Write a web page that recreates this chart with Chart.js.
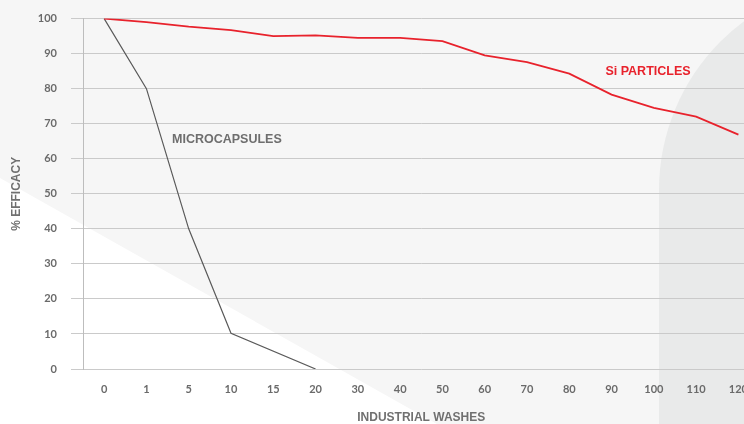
<!DOCTYPE html>
<html>
<head>
<meta charset="utf-8">
<script src="https://cdn.jsdelivr.net/npm/chart.js@4"></script>
<style>
  html,body{margin:0;padding:0;}
  body{width:744px;height:424px;overflow:hidden;position:relative;background:#f6f6f6;}
  .tri{position:absolute;left:0;top:0;width:744px;height:424px;background:#ffffff;
       clip-path:polygon(0 178px, 437px 424px, 0 424px);}
  .blob{position:absolute;left:659px;top:-20px;width:600px;height:700px;background:#e9eaea;border-radius:210px;}
  #wrap{position:absolute;left:0;top:-2.5px;width:762px;height:426.5px;}
  canvas{display:block;}
</style>
</head>
<body>
<div class="tri"></div>
<div class="blob"></div>
<div id="wrap"><canvas id="c" width="762" height="427"></canvas></div>
<script>
// ---- data ----
const washes = ['0','1','5','10','15','20','30','40','50','60','70','80','90','100','110','120'];
const siParticles = [100, 99.0, 97.7, 96.7, 95.0, 95.2, 94.5, 94.5, 93.6, 89.5, 87.6, 84.3, 78.3, 74.5, 72.0, 66.9];
const microcapsules = [100, 80, 40, 10.2, null, 0, null, null, null, null, null, null, null, null, null, null];
const yTicks = [0, 10, 20, 30, 40, 50, 60, 70, 80, 90, 100];

const labelFont = "'Liberation Sans', Arial, sans-serif";
const tickFont = "Lato, 'Open Sans', sans-serif";

const annotations = {
  id: 'annotations',
  afterDatasetsDraw(chart) {
    const ctx = chart.ctx;
    ctx.save();
    ctx.font = "bold 12.5px " + labelFont;
    ctx.textBaseline = 'middle';
    ctx.fillStyle = '#6e6e6e';
    ctx.textAlign = 'left';
    ctx.fillText('MICROCAPSULES', 172, 141.5);
    ctx.fillStyle = '#e8222c';
    ctx.textAlign = 'center';
    ctx.fillText('Si PARTICLES', 648, 73.5);
    ctx.restore();
  }
};

new Chart(document.getElementById('c'), {
  type: 'line',
  data: {
    labels: washes,
    datasets: [
      {
        label: 'Si PARTICLES',
        data: siParticles,
        borderColor: '#e8222c',
        borderWidth: 1.8,
        pointRadius: 0,
        tension: 0,
        fill: false
      },
      {
        label: 'MICROCAPSULES',
        data: microcapsules,
        borderColor: '#5a5a5a',
        borderWidth: 1.2,
        pointRadius: 0,
        tension: 0,
        spanGaps: true,
        fill: false
      }
    ]
  },
  options: {
    responsive: false,
    animation: false,
    devicePixelRatio: 1,
    layout: { padding: { top: 11.5, left: 0, right: 0, bottom: 0 } },
    plugins: {
      legend: { display: false },
      tooltip: { enabled: false }
    },
    scales: {
      x: {
        type: 'category',
        offset: true,
        afterFit(scale) { scale.height = 56; },
        grid: { display: false, drawTicks: false },
        border: { display: false },
        ticks: {
          color: '#6a6a6a',
          font: { family: tickFont, size: 11, weight: 'bold' },
          padding: 14,
          maxRotation: 0,
          autoSkip: false
        },
        title: {
          display: true,
          text: 'INDUSTRIAL WASHES',
          color: '#707070',
          font: { family: labelFont, size: 12, weight: 'bold' },
          padding: { top: 13, bottom: 0 }
        }
      },
      y: {
        min: 0,
        max: 100,
        afterBuildTicks(scale) { scale.ticks = yTicks.map(v => ({ value: v })); },
        afterFit(scale) { scale.width = 83; },
        grid: { color: '#cacaca', lineWidth: 1, tickLength: 12, drawTicks: true },
        border: { display: true, color: '#bdbdbd', width: 1 },
        ticks: {
          color: '#6a6a6a',
          font: { family: tickFont, size: 11, weight: 'bold' },
          padding: 14
        },
        title: {
          display: true,
          text: '% EFFICACY',
          color: '#707070',
          font: { family: labelFont, size: 12, weight: 'bold' },
          padding: { top: 9, bottom: 0 }
        }
      }
    }
  },
  plugins: [annotations]
});
</script>
</body>
</html>
